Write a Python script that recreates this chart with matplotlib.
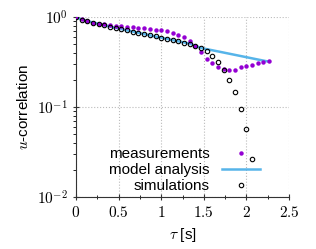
import numpy as np
import matplotlib
matplotlib.use('Agg')
from matplotlib import pyplot as plt
from matplotlib.ticker import FixedLocator, FuncFormatter, LogLocator, NullFormatter

plt.rcParams['mathtext.fontset'] = 'cm'
plt.rcParams['font.family'] = ['Liberation Sans', 'DejaVu Sans']

# lag times, step 1/15 s
tau_meas = np.arange(35) / 15.0
tau_sim = np.arange(32) / 15.0

# log10 of correlation
meas_log = [0.0, -0.026, -0.044, -0.063, -0.074, -0.081, -0.089, -0.096, -0.104, -0.107,
            -0.115, -0.119, -0.126, -0.133, -0.141, -0.144, -0.159, -0.178, -0.196, -0.226,
            -0.270, -0.322, -0.389, -0.463, -0.511, -0.552, -0.581, -0.589, -0.585, -0.556,
            -0.548, -0.537, -0.507, -0.500, -0.493]
sim_log = [0.0, -0.030, -0.048, -0.063, -0.078, -0.092, -0.108, -0.122, -0.137, -0.148,
           -0.163, -0.178, -0.189, -0.203, -0.215, -0.230, -0.244, -0.259, -0.270, -0.285,
           -0.296, -0.322, -0.348, -0.381, -0.433, -0.500, -0.589, -0.703, -0.837, -1.019,
           -1.248, -1.574]
model_tau = [0.0, 0.0667, 0.333, 0.667, 1.0, 1.333, 1.467, 1.8, 2.133, 2.267]
model_log = [0.0, -0.030, -0.092, -0.163, -0.230, -0.296, -0.344, -0.408, -0.472, -0.497]

meas = 10 ** np.array(meas_log)
sim = 10 ** np.array(sim_log)
model = 10 ** np.array(model_log)

fig = plt.figure(figsize=(3.16, 2.49), dpi=100)
ax = fig.add_axes([0.2405, 0.2088, 0.6741, 0.7229])

ax.plot(model_tau, model, color='#56B4E9', lw=1.8, label='model analysis', zorder=2)
ax.plot(tau_meas, meas, 'o', color='#9400D3', ms=3.2, mec='none', label='measurements', zorder=3)
ax.plot(tau_sim, sim, 'o', mfc='none', mec='black', mew=0.8, ms=3.2, label='simulations', zorder=4)

ax.set_yscale('log')
ax.set_xlim(0, 2.5)
ax.set_ylim(1e-2, 1)

ax.xaxis.set_major_locator(FixedLocator([0, 0.5, 1, 1.5, 2, 2.5]))
ax.xaxis.set_minor_locator(FixedLocator([0.25, 0.75, 1.25, 1.75, 2.25]))
ax.xaxis.set_major_formatter(FuncFormatter(lambda v, p: '$%g$' % v))
ax.yaxis.set_major_locator(FixedLocator([1e-2, 1e-1, 1]))
ax.yaxis.set_minor_locator(LogLocator(base=10, subs=np.arange(2, 10)))
ax.yaxis.set_minor_formatter(NullFormatter())
ax.yaxis.set_major_formatter(FuncFormatter(lambda v, p: '$10^{%d}$' % round(np.log10(v))))

ax.tick_params(axis='both', which='major', labelsize=11, color='#333333')
ax.tick_params(axis='x', which='major', direction='inout', length=5, width=0.8)
ax.tick_params(axis='x', which='minor', direction='inout', length=3, width=0.6)
ax.tick_params(axis='y', which='major', direction='inout', length=5, width=0.8)
ax.tick_params(axis='y', which='minor', direction='out', length=2.5, width=0.6)

ax.grid(True, which='major', linestyle=':', color='#bbbbbb', lw=0.8)
for s in ['top', 'right']:
    ax.spines[s].set_visible(False)
for s in ['left', 'bottom']:
    ax.spines[s].set_color('#333333')

ax.set_xlabel(r'$\tau$ [s]', fontsize=11)
ax.set_ylabel(r'$u$-correlation', fontsize=11)

h, l = ax.get_legend_handles_labels()
order = [1, 0, 2]
leg = ax.legend([h[i] for i in order], [l[i] for i in order], loc='lower right',
                markerfirst=False, frameon=False, fontsize=11, handlelength=2.5,
                labelspacing=0.12, borderaxespad=0.0, handletextpad=0.8,
                bbox_to_anchor=(0.893, -0.012))
for t in leg.get_texts():
    t.set_ha('right')

fig.savefig('out.png', dpi=100)
